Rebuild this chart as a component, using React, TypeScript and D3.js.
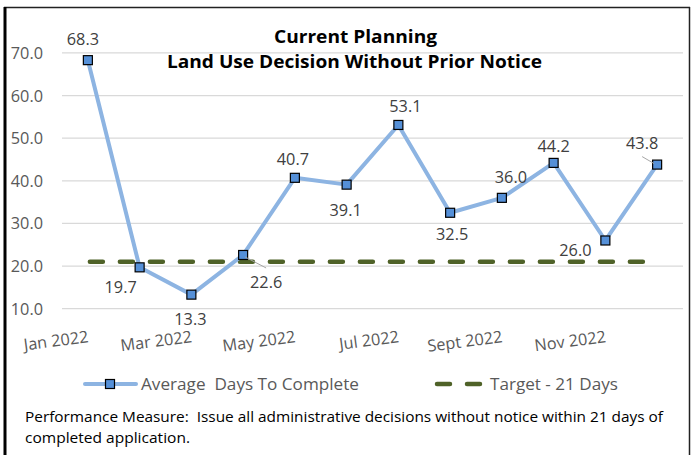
import React from "react";
import * as d3 from "d3";

const months = ["Jan 2022","Feb 2022","Mar 2022","Apr 2022","May 2022","Jun 2022","Jul 2022","Aug 2022","Sept 2022","Oct 2022","Nov 2022","Dec 2022"];
const shownLabels = ["Jan 2022","Mar 2022","May 2022","Jul 2022","Sept 2022","Nov 2022"];
const avgDays = [68.3, 19.7, 13.3, 22.6, 40.7, 39.1, 53.1, 32.5, 36.0, 44.2, 26.0, 43.8];
const targetDays = 21;
const yTicks = [10, 20, 30, 40, 50, 60, 70];
const titleLines = ["Current Planning", "Land Use Decision Without Prior Notice"];
const legendLabels = ["Average  Days To Complete", "Target - 21 Days"];
const footLines = [
  "Performance Measure:  Issue all administrative decisions without notice within 21 days of",
  "completed application.",
];

// label offsets (dx, dy baseline) relative to marker
const labelOffsets: [number, number][] = [
  [-5, -15], [-19, 26], [-1, 30], [23, 33], [-2, -13], [-1, 31], [7, -13], [2, 27], [9, -15], [0, -11], [-30, 15.5], [-15, -15.5],
];

const FONT = "'Open Sans', 'Noto Sans', sans-serif";

export default function App() {
  const x = d3.scaleBand<string>().domain(months).range([62, 683]);
  const y = d3.scaleLinear().domain([10, 70]).range([308.7, 52.9]);
  const cx = (m: string) => (x(m) as number) + x.bandwidth() / 2;
  const line = d3
    .line<number>()
    .x((_, i) => cx(months[i]))
    .y((d) => y(d));
  const ms = 9;
  const blue = "#8DB4E2";
  const markerFill = "#5590D8";
  const green = "#4F6228";
  const fs = 16.3;
  return (
    <div style={{ position: "absolute", left: 0, top: 0 }}>
      <svg width={697} height={455} style={{ display: "block", fontFamily: FONT }}>
        <rect x={0} y={0} width={697} height={455} fill="#fff" />
        {/* chart border */}
        <line x1={4} x2={690} y1={7.5} y2={7.5} stroke="#222" strokeWidth={1.5} />
        <line x1={689.5} x2={689.5} y1={7} y2={455} stroke="#222" strokeWidth={1.5} />
        <line x1={5} x2={5} y1={7} y2={455} stroke="#000" strokeWidth={3} />
        {/* gridlines */}
        {yTicks.map((t) => (
          <line key={t} x1={62} x2={683} y1={y(t)} y2={y(t)} stroke="#D9D9D9" strokeWidth={1.3} />
        ))}
        {yTicks.map((t) => (
          <text key={"yl" + t} x={43} y={y(t) + 6} textAnchor="end" fontSize={fs} fill="#595959">
            {d3.format(".1f")(t)}
          </text>
        ))}
        {/* x labels */}
        {shownLabels.map((m) => {
          const px = cx(m) + 1;
          const py = 342;
          return (
            <text key={m} x={px} y={py} textAnchor="end" fontSize={fs} fill="#595959"
              transform={`rotate(-7.5, ${px}, ${py})`}>
              {m}
            </text>
          );
        })}
        {/* title */}
        <text x={355.5} y={43} textAnchor="middle" fontSize={18} fontWeight="bold" fill="#000"
          textLength={163} lengthAdjust="spacingAndGlyphs">{titleLines[0]}</text>
        <text x={354.5} y={68} textAnchor="middle" fontSize={18} fontWeight="bold" fill="#000"
          textLength={375} lengthAdjust="spacingAndGlyphs">{titleLines[1]}</text>
        {/* target */}
        <line x1={cx(months[0])} x2={cx(months[11])} y1={y(targetDays)} y2={y(targetDays)}
          stroke={green} strokeWidth={4.5} strokeDasharray="13 17" strokeLinecap="round" transform="translate(2,0)" />
        {/* average line */}
        <path d={line(avgDays) || ""} fill="none" stroke={blue} strokeWidth={4} strokeLinejoin="round" />
        {avgDays.map((v, i) => (
          <rect key={i} x={cx(months[i]) - ms / 2} y={y(v) - ms / 2} width={ms} height={ms}
            fill={markerFill} stroke="#000" strokeWidth={1.2} />
        ))}
        {/* leader lines */}
        <line x1={cx(months[3]) + 2} y1={y(avgDays[3]) + 2} x2={cx(months[3]) + 23} y2={y(avgDays[3]) + 13} stroke="#A6A6A6" strokeWidth={1} />
        <line x1={cx(months[11]) - 15} y1={y(avgDays[11]) - 8} x2={cx(months[11]) - 3} y2={y(avgDays[11]) - 1} stroke="#A6A6A6" strokeWidth={1} />
        {/* data labels */}
        {avgDays.map((v, i) => (
          <text key={"dl" + i} x={cx(months[i]) + labelOffsets[i][0]} y={y(v) + labelOffsets[i][1]}
            textAnchor="middle" fontSize={fs} fill="#404040">
            {d3.format(".1f")(v)}
          </text>
        ))}
        {/* legend */}
        <line x1={85} x2={136} y1={384} y2={384} stroke={blue} strokeWidth={4} strokeLinecap="round" />
        <rect x={110 - ms / 2} y={384 - ms / 2} width={ms} height={ms} fill={markerFill} stroke="#000" strokeWidth={1.2} />
        <text x={141} y={390} fontSize={fs} fill="#595959" textLength={218} lengthAdjust="spacingAndGlyphs" style={{ whiteSpace: "pre" }}>{legendLabels[0]}</text>
        <line x1={437} x2={481} y1={384} y2={384} stroke={green} strokeWidth={4.5} strokeDasharray="13 17" strokeLinecap="round" />
        <text x={490} y={390} fontSize={fs} fill="#595959" textLength={128} lengthAdjust="spacingAndGlyphs">{legendLabels[1]}</text>
        {/* footnote */}
        <text x={25} y={422} fontSize={14.5} fill="#000" textLength={638} lengthAdjust="spacingAndGlyphs" style={{ whiteSpace: "pre" }}>{footLines[0]}</text>
        <text x={25} y={443} fontSize={14.5} fill="#000" textLength={165} lengthAdjust="spacingAndGlyphs">{footLines[1]}</text>
      </svg>
    </div>
  );
}
